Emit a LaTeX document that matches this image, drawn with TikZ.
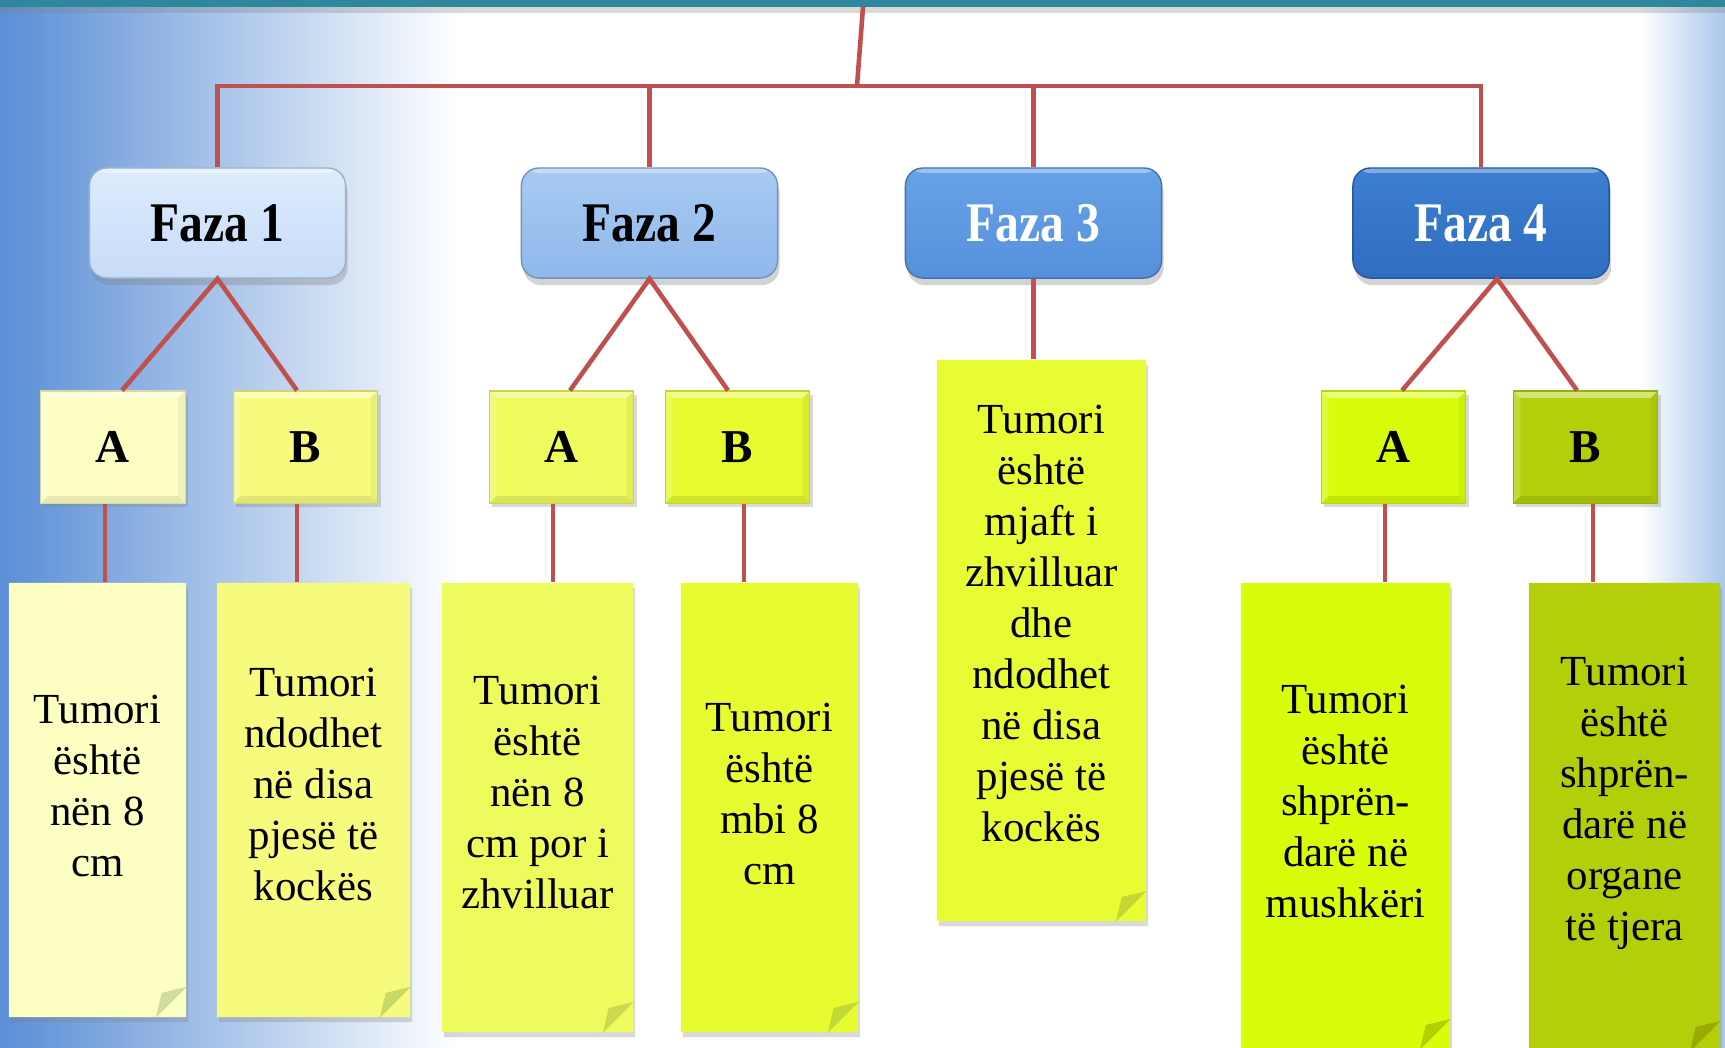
\documentclass[tikz,border=0pt]{standalone}
\usepackage{fontspec}
\setmainfont{Liberation Serif}
\newfontfamily\fazafont[FakeStretch=0.85]{Liberation Serif}
\usetikzlibrary{calc,shadows,shapes.misc}

\definecolor{bgblue}{HTML}{5A8ED6}
\definecolor{bgmid}{HTML}{A6C3E9}
\definecolor{bgright}{HTML}{A9C7EA}
\definecolor{band}{HTML}{2E879C}
\definecolor{linkred}{HTML}{C0504D}
% phase boxes
\definecolor{f1top}{HTML}{DDEBFD}\definecolor{f1bot}{HTML}{C7DCF8}
\definecolor{f2top}{HTML}{A8CAF3}\definecolor{f2bot}{HTML}{90B8EC}
\definecolor{f3top}{HTML}{68A3E7}\definecolor{f3bot}{HTML}{5590DC}
\definecolor{f4top}{HTML}{3D7FD1}\definecolor{f4bot}{HTML}{2F6DC0}
% sub boxes and notes
\definecolor{c1a}{HTML}{FDFFC2}\definecolor{c1b}{HTML}{F6FB7E}
\definecolor{c2a}{HTML}{EEFB5C}\definecolor{c2b}{HTML}{E6FB30}
\definecolor{c3}{HTML}{E8FC34}
\definecolor{c4a}{HTML}{D8FC0A}\definecolor{c4b}{HTML}{B4CF0A}
% folded corners
\definecolor{fl1a}{HTML}{D3DCA0}\definecolor{fl1b}{HTML}{C9D968}
\definecolor{fl2a}{HTML}{C9DA50}\definecolor{fl2b}{HTML}{C2D834}
\definecolor{fl3}{HTML}{C4D834}
\definecolor{fl4a}{HTML}{B2CF00}\definecolor{fl4b}{HTML}{98AB00}

\newcommand\ppb{path picture bounding box}

\tikzset{
  link/.style={draw=linkred, line width=1.3pt},
  faza/.style 2 args={rectangle, rounded corners=5pt, top color=#1, bottom color=#2,
    draw=#2!80!black, line width=.4pt, minimum width=2.56cm, minimum height=1.1cm,
    font=\fazafont\bfseries\fontsize{15.9}{19}\selectfont,
    drop shadow={opacity=.35, shadow xshift=.02cm, shadow yshift=-.07cm},
    path picture={\fill[white, opacity=.35] (\ppb.north west) rectangle ([yshift=-.05cm]\ppb.north east);}},
  letter/.style={rectangle, fill=#1, draw=#1!85!black, line width=.3pt,
    minimum width=1.44cm, minimum height=1.12cm, inner sep=0pt,
    font=\bfseries\fontsize{13.4}{16}\selectfont,
    drop shadow={opacity=.3, shadow xshift=.03cm, shadow yshift=-.04cm},
    path picture={
      \fill[white, opacity=.45] (\ppb.north west) -- (\ppb.north east)
        -- ([xshift=-.07cm, yshift=-.07cm]\ppb.north east) -- ([xshift=.07cm, yshift=-.07cm]\ppb.north west) -- cycle;
      \fill[white, opacity=.2] (\ppb.north west) -- ([xshift=.07cm, yshift=-.07cm]\ppb.north west)
        -- ([xshift=.07cm, yshift=.07cm]\ppb.south west) -- (\ppb.south west) -- cycle;
      \fill[black, opacity=.09] (\ppb.south west) -- (\ppb.south east)
        -- ([xshift=-.07cm, yshift=.07cm]\ppb.south east) -- ([xshift=.07cm, yshift=.07cm]\ppb.south west) -- cycle;
      \fill[black, opacity=.05] (\ppb.north east) -- ([xshift=-.07cm, yshift=-.07cm]\ppb.north east)
        -- ([xshift=-.07cm, yshift=.07cm]\ppb.south east) -- (\ppb.south east) -- cycle;}},
  paper/.style={chamfered rectangle, chamfered rectangle corners=south east,
    chamfered rectangle sep=.31cm, fill=#1, inner sep=0pt,
    drop shadow={opacity=.3, shadow xshift=.02cm, shadow yshift=-.05cm}},
  notetext/.style={align=center, inner sep=0pt, font=\fontsize{12.2}{14.5}\selectfont}
}

\begin{document}
\begin{tikzpicture}[x=0.01cm, y=-0.01cm]
\useasboundingbox (0,0) rectangle (1725,1047);
\clip (0,0) rectangle (1725,1047);

% background
\fill[left color=bgblue, middle color=bgmid, right color=white] (0,0) rectangle (460,1047);
\fill[left color=white, right color=bgright] (1640,0) rectangle (1725,1047);
\fill[band, drop shadow={opacity=.3, shadow xshift=0pt, shadow yshift=-.06cm}] (0,0) rectangle (1725,7);

% phases
\node[faza={f1top}{f1bot}] (f1) at (217.5,223) {Faza 1};
\node[faza={f2top}{f2bot}] (f2) at (649.5,223) {Faza 2};
\node[faza={f3top}{f3bot}, text=white] (f3) at (1033.5,223) {Faza 3};
\node[faza={f4top}{f4bot}, text=white] (f4) at (1481,223) {Faza 4};

% sub stages
\node[letter=c1a] (a1) at (113,447) {A};
\node[letter=c1b] (b1) at (305.5,447) {B};
\node[letter=c2a] (a2) at (561.5,447) {A};
\node[letter=c2b] (b2) at (737.5,447) {B};
\node[letter=c4a] (a4) at (1393.5,447) {A};
\node[letter=c4b] (b4) at (1585.5,447) {B};

% notes
\node[paper=c1a, minimum width=1.77cm, minimum height=4.34cm] (n1a) at (97.5,800) {};
\node[paper=c1b, minimum width=1.93cm, minimum height=4.34cm] (n1b) at (313.5,800) {};
\node[paper=c2a, minimum width=1.91cm, minimum height=4.49cm] (n2a) at (537.5,807.5) {};
\node[paper=c2b, minimum width=1.77cm, minimum height=4.49cm] (n2b) at (769.5,807.5) {};
\node[paper=c3, minimum width=2.09cm, minimum height=5.61cm] (n3) at (1041.5,640.5) {};
\node[paper=c4a, minimum width=2.09cm, minimum height=4.66cm] (n4a) at (1345.5,816) {};
\node[paper=c4b, minimum width=1.91cm, minimum height=4.68cm] (n4b) at (1624.5,817) {};

% folded corners
\fill[fl1a] ($(n1a.north east |- n1a.south west)+(0,-31)$) -- ++(-31,31) -- ++(6,-25) -- cycle;
\fill[fl1b] ($(n1b.north east |- n1b.south west)+(0,-31)$) -- ++(-31,31) -- ++(6,-25) -- cycle;
\fill[fl2a] ($(n2a.north east |- n2a.south west)+(0,-31)$) -- ++(-31,31) -- ++(6,-25) -- cycle;
\fill[fl2b] ($(n2b.north east |- n2b.south west)+(0,-31)$) -- ++(-31,31) -- ++(6,-25) -- cycle;
\fill[fl3] ($(n3.north east |- n3.south west)+(0,-31)$) -- ++(-31,31) -- ++(6,-25) -- cycle;
\fill[fl4a] ($(n4a.north east |- n4a.south west)+(0,-31)$) -- ++(-31,31) -- ++(6,-25) -- cycle;
\fill[fl4b] ($(n4b.north east |- n4b.south west)+(0,-31)$) -- ++(-31,31) -- ++(6,-25) -- cycle;

\node[notetext] (t1a) at ($(n1a.center)+(0,-14)$) {Tumori\\është\\nën 8\\cm};
\node[notetext] (t1b) at ($(n1b.center)+(0,-16)$) {Tumori\\ndodhet\\në disa\\pjesë të\\kockës};
\node[notetext] (t2a) at ($(n2a.center)+(0,-15)$) {Tumori\\është\\nën 8\\cm por i\\zhvilluar};
\node[notetext] (t2b) at ($(n2b.center)+(0,-14)$) {Tumori\\është\\mbi 8\\cm};
\node[notetext] (t3) at ($(n3.center)+(0,-17)$) {Tumori\\është\\mjaft i\\zhvilluar\\dhe\\ndodhet\\në disa\\pjesë të\\kockës};
\node[notetext] (t4a) at ($(n4a.center)+(0,-15)$) {Tumori\\është\\shprën-\\darë në\\mushkëri};
\node[notetext] (t4b) at ($(n4b.center)+(0,-14)$) {Tumori\\është\\shprën-\\darë në\\organe\\të tjera};

% connectors
\coordinate (top) at (863,7);
\coordinate (hub) at (857,86);
\draw[link] (top) -- (hub);
\draw[link] (f1.north) |- (hub) -| (f4.north);
\draw[link] (hub -| f2.north) -- (f2.north);
\draw[link] (hub -| f3.north) -- (f3.north);

\draw[link] ([xshift=.09cm]a1.north) -- (f1.south) -- ([xshift=-.085cm]b1.north);
\draw[link] ([xshift=.085cm]a2.north) -- (f2.south) -- ([xshift=-.095cm]b2.north);
\draw[link] ([xshift=.085cm]a4.north) -- ([xshift=.16cm]f4.south) -- ([xshift=-.085cm]b4.north);
\draw[link] (f3.south) -- (f3.south |- n3.north);

\draw[link] ([xshift=-.08cm]a1.south) -- ([xshift=-.08cm]a1.south |- n1a.north);
\draw[link] ([xshift=-.085cm]b1.south) -- ([xshift=-.085cm]b1.south |- n1b.north);
\draw[link] ([xshift=-.085cm]a2.south) -- ([xshift=-.085cm]a2.south |- n2a.north);
\draw[link] ([xshift=.065cm]b2.south) -- ([xshift=.065cm]b2.south |- n2b.north);
\draw[link] ([xshift=-.085cm]a4.south) -- ([xshift=-.085cm]a4.south |- n4a.north);
\draw[link] ([xshift=.075cm]b4.south) -- ([xshift=.075cm]b4.south |- n4b.north);
\end{tikzpicture}
\end{document}
